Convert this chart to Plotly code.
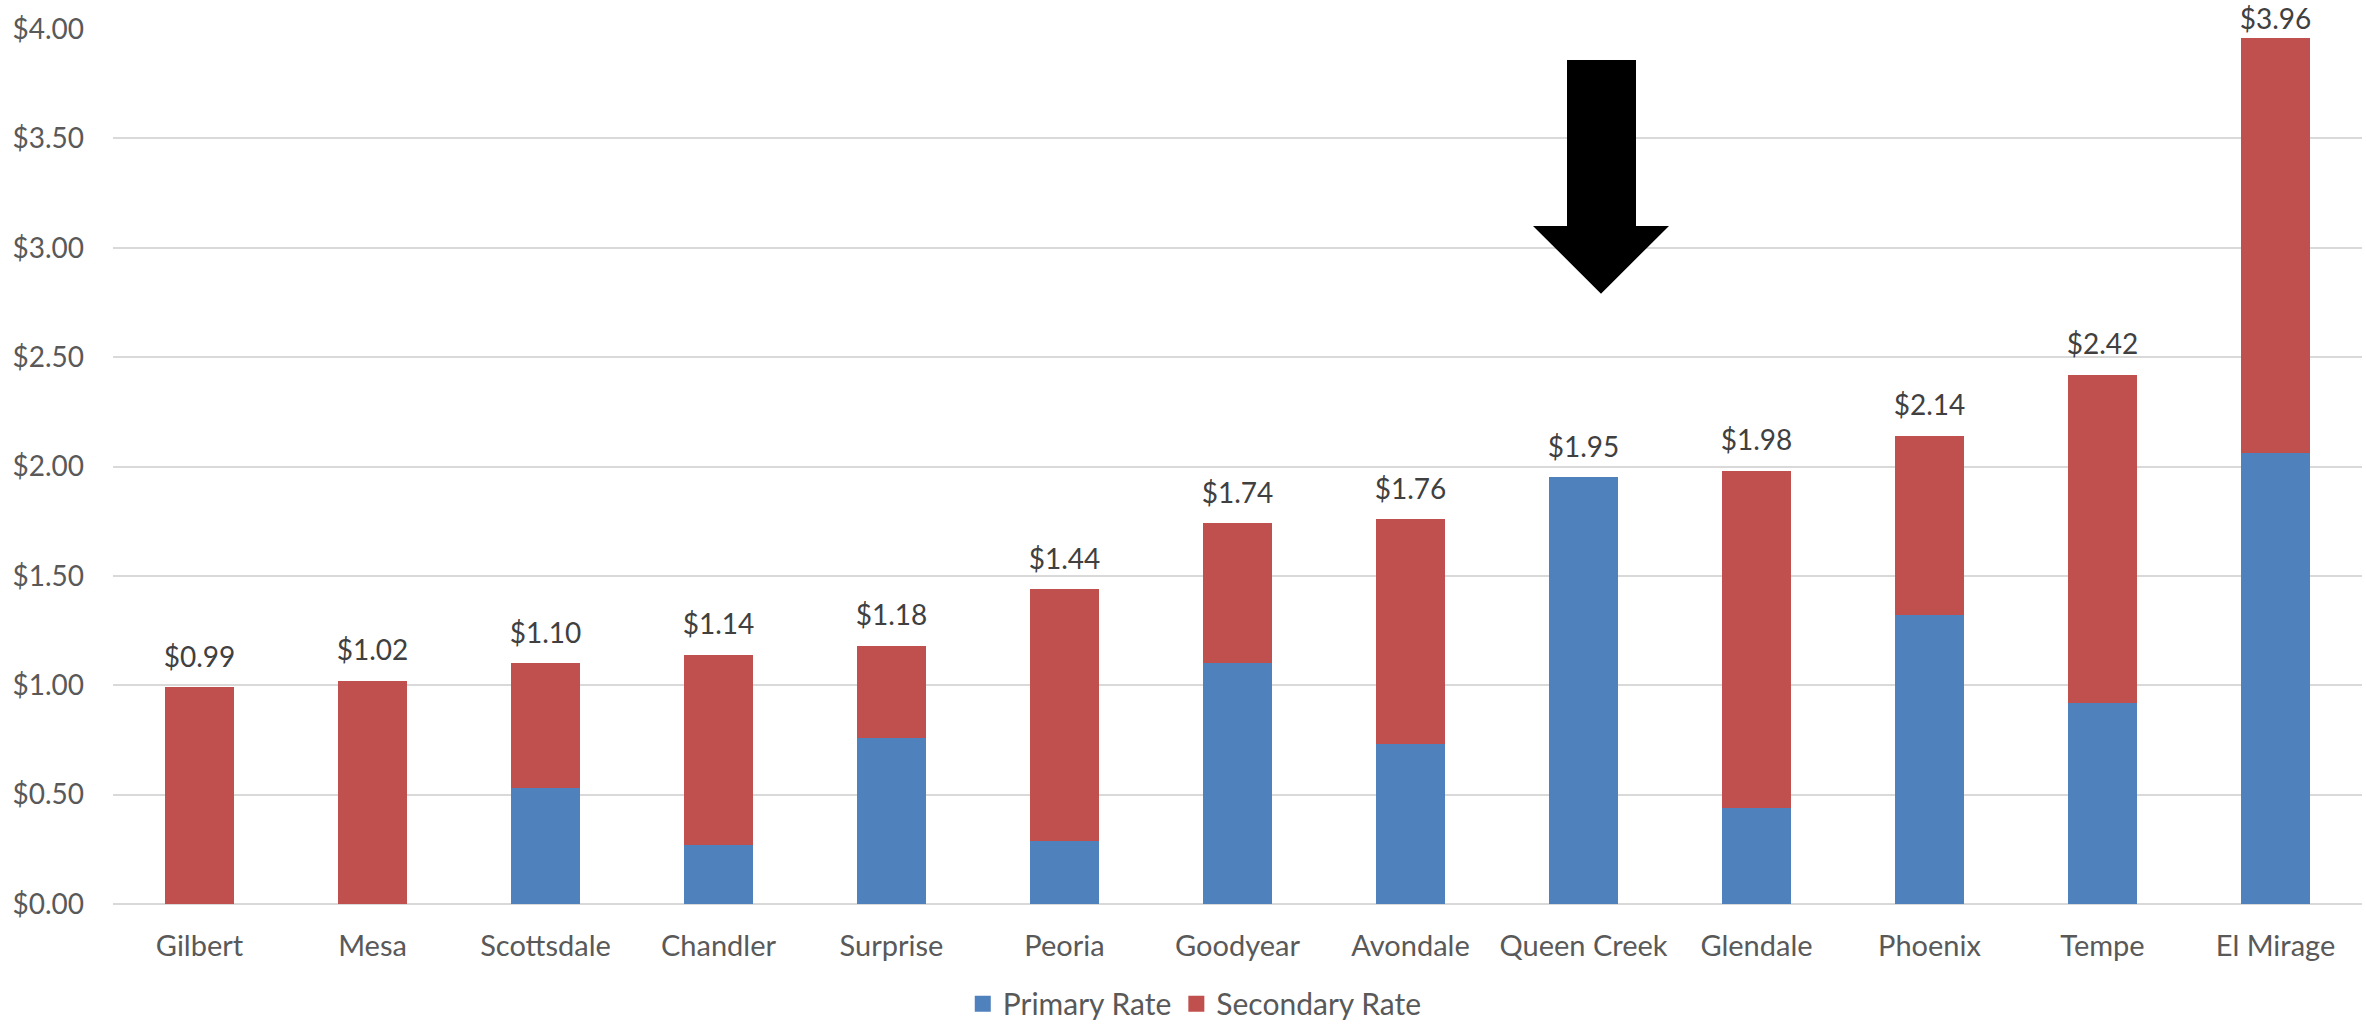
import plotly.graph_objects as go

cities = ["Gilbert", "Mesa", "Scottsdale", "Chandler", "Surprise", "Peoria", "Goodyear",
          "Avondale", "Queen Creek", "Glendale", "Phoenix", "Tempe", "El Mirage"]
primary_rate = [0.00, 0.00, 0.53, 0.27, 0.76, 0.29, 1.10, 0.73, 1.95, 0.44, 1.32, 0.92, 2.06]
secondary_rate = [0.99, 1.02, 0.57, 0.87, 0.42, 1.15, 0.64, 1.03, 0.00, 1.54, 0.82, 1.50, 1.90]
total_rate = [round(p + s, 2) for p, s in zip(primary_rate, secondary_rate)]
y_ticks = [0, 0.5, 1.0, 1.5, 2.0, 2.5, 3.0, 3.5, 4.0]
y_tick_labels = ["$%.2f" % v for v in y_ticks]
series_names = ["Primary Rate", "Secondary Rate"]

BLUE = "#4F81BD"
RED = "#C0504D"
FONT = "Lato"

# label offset (invisible marker size); the top label sits tighter to fit the chart
label_pad = [20] * (len(cities) - 1) + [1]

fig = go.Figure()
fig.add_trace(go.Bar(x=cities, y=primary_rate, name=series_names[0], showlegend=False,
                     marker=dict(color=BLUE, line=dict(width=0))))
fig.add_trace(go.Bar(x=cities, y=secondary_rate, name=series_names[1], showlegend=False,
                     marker=dict(color=RED, line=dict(width=0))))
fig.add_trace(go.Scatter(x=cities, y=total_rate, mode="markers+text",
                         marker=dict(size=label_pad, opacity=0),
                         text=["$%.2f" % t for t in total_rate],
                         textposition="top center",
                         textfont=dict(family=FONT, size=28, color="#404040"),
                         showlegend=False, hoverinfo="skip", cliponaxis=False))
# legend entries (square swatches)
for nm, col in zip(series_names, [BLUE, RED]):
    fig.add_trace(go.Scatter(x=[None], y=[None], mode="markers", name=nm,
                             marker=dict(symbol="square", size=18, color=col)))

# Arrow pointing at Queen Creek (paper x, data y)
W0, W1 = 113.0, 2362.0
def px(xp):
    return (xp - W0) / (W1 - W0)
shaft_l, shaft_r = px(1567), px(1636)
head_l, head_r = px(1533), px(1669)
tip_x = px(1601)
top_y, base_y, tip_y = 3.858, 3.10, 2.79

fig.add_shape(type="path", xref="paper", yref="y",
              path=(f"M {shaft_l},{top_y} L {shaft_r},{top_y} L {shaft_r},{base_y} "
                    f"L {head_r},{base_y} L {tip_x},{tip_y} L {head_l},{base_y} "
                    f"L {shaft_l},{base_y} Z"),
              fillcolor="black", line=dict(width=0), layer="above")

fig.update_layout(
    width=2366, height=1025,
    barmode="stack", bargap=0.6,
    plot_bgcolor="white", paper_bgcolor="white",
    margin=dict(l=113, r=4, t=29, b=121, autoexpand=False),
    font=dict(family=FONT, color="#595959"),
    xaxis=dict(range=[-0.5, len(cities) - 0.5], showgrid=False, showline=False,
               ticks="", automargin=False,
               tickfont=dict(family=FONT, size=29, color="#595959"),
               ticklabelstandoff=22),
    yaxis=dict(range=[0, 4], tickvals=y_ticks, ticktext=y_tick_labels, automargin=False,
               showgrid=True, gridcolor="#D9D9D9", gridwidth=1.5,
               zeroline=True, zerolinecolor="#D9D9D9", zerolinewidth=1.5,
               showline=False, ticks="",
               tickfont=dict(family=FONT, size=28, color="#595959"),
               ticklabelstandoff=28),
    legend=dict(orientation="h", x=0.481, xanchor="center", y=-0.114, yanchor="middle",
                font=dict(family=FONT, size=30, color="#595959"),
                itemsizing="trace", itemwidth=30, traceorder="normal"),
    showlegend=True,
)

fig.write_html("out.html")
